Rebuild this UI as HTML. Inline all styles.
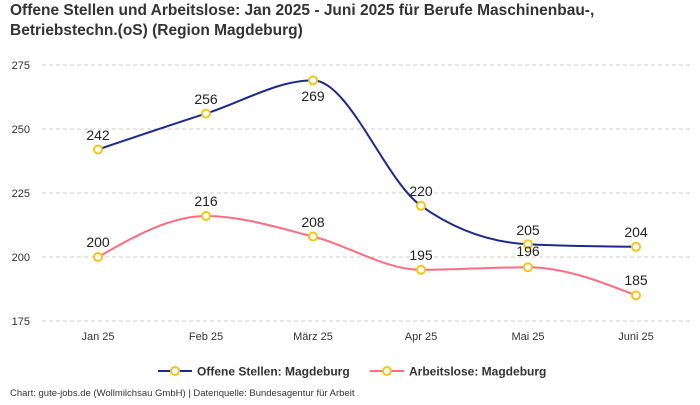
<!DOCTYPE html>
<html><head><meta charset="utf-8"><style>
body{margin:0;background:#fff;width:700px;height:400px;overflow:hidden;font-family:"Liberation Sans",sans-serif}
</style></head><body>
<svg width="700" height="400" xmlns="http://www.w3.org/2000/svg" font-family="Liberation Sans, sans-serif">
<text x="10" y="15" font-size="15.5" font-weight="bold" fill="#333">Offene Stellen und Arbeitslose: Jan 2025 - Juni 2025 für Berufe Maschinenbau-,</text>
<text x="10" y="35" font-size="15.5" font-weight="bold" fill="#333">Betriebstechn.(oS) (Region Magdeburg)</text>
<g stroke="#ccc" stroke-dasharray="4,3" stroke-width="1">
<line x1="42" x2="692" y1="65" y2="65"/><line x1="42" x2="692" y1="129" y2="129"/><line x1="42" x2="692" y1="193" y2="193"/><line x1="42" x2="692" y1="257" y2="257"/><line x1="42" x2="692" y1="321" y2="321"/>
</g>
<g font-size="11" fill="#333" text-anchor="end">
<text x="30" y="69">275</text><text x="30" y="133">250</text><text x="30" y="197">225</text><text x="30" y="261">200</text><text x="30" y="325">175</text>
</g>
<g font-size="11" fill="#333" text-anchor="middle">
<text x="98" y="340">Jan 25</text><text x="206" y="340">Feb 25</text><text x="313" y="340">März 25</text><text x="421" y="340">Apr 25</text><text x="528" y="340">Mai 25</text><text x="636" y="340">Juni 25</text>
</g>
<path d="M98,149.5 C133.9,137.3 170.1,125.1 206,113.6 C241.9,102.1 277.1,80.4 313,80.4 C348.9,80.4 385.1,180.2 421,205.8 C456.9,231.4 492.1,242.5 528,244.2 C563.9,245.9 600.1,246.4 636,246.8" fill="none" stroke="#1c2a8c" stroke-width="2"/>
<path d="M98,257 C133.9,236.5 170.1,216 206,216 C241.9,216 277.1,227.5 313,236.5 C348.9,245.5 385.1,269.8 421,269.8 C456.9,269.8 492.1,267.2 528,267.2 C563.9,267.2 600.1,281.3 636,295.4" fill="none" stroke="#ff6b81" stroke-width="2"/>
<g fill="#fff" stroke="#f5c518" stroke-width="2">
<circle cx="98" cy="149.5" r="4"/><circle cx="206" cy="113.6" r="4"/><circle cx="313" cy="80.4" r="4"/><circle cx="421" cy="205.8" r="4"/><circle cx="528" cy="244.2" r="4"/><circle cx="636" cy="246.8" r="4"/>
<circle cx="98" cy="257" r="4"/><circle cx="206" cy="216" r="4"/><circle cx="313" cy="236.5" r="4"/><circle cx="421" cy="269.8" r="4"/><circle cx="528" cy="267.2" r="4"/><circle cx="636" cy="295.4" r="4"/>
</g>
<g font-size="14" fill="#222" text-anchor="middle">
<text x="98" y="140">242</text><text x="206" y="104">256</text><text x="313" y="101">269</text><text x="421" y="196">220</text><text x="528" y="235">205</text><text x="636" y="237">204</text>
<text x="98" y="247">200</text><text x="206" y="206">216</text><text x="313" y="227">208</text><text x="421" y="260">195</text><text x="528" y="256">196</text><text x="636" y="285">185</text>
</g>
<line x1="158" x2="192" y1="371" y2="371" stroke="#1c2a8c" stroke-width="2"/>
<circle cx="175" cy="371" r="4" fill="#fff" stroke="#f5c518" stroke-width="2"/>
<text x="197" y="375.5" font-size="12" font-weight="bold" fill="#333">Offene Stellen: Magdeburg</text>
<line x1="370" x2="404" y1="371" y2="371" stroke="#ff6b81" stroke-width="2"/>
<circle cx="387" cy="371" r="4" fill="#fff" stroke="#f5c518" stroke-width="2"/>
<text x="409" y="375.5" font-size="12" font-weight="bold" fill="#333">Arbeitslose: Magdeburg</text>
<text x="10" y="396" font-size="9.5" fill="#333">Chart: gute-jobs.de (Wollmilchsau GmbH) | Datenquelle: Bundesagentur für Arbeit</text>
</svg>
</body></html>
